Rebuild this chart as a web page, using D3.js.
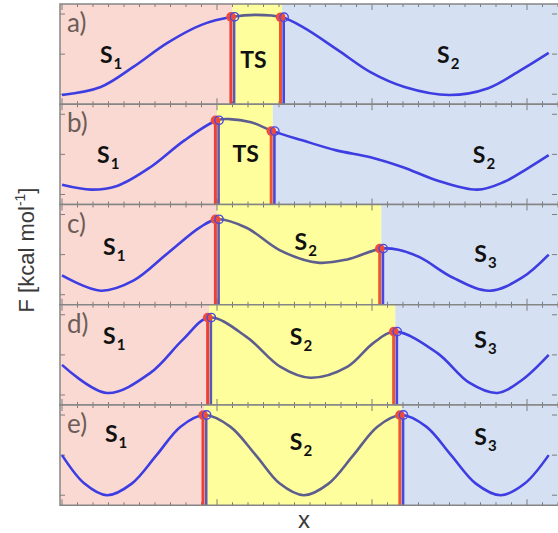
<!DOCTYPE html>
<html>
<head>
<meta charset="utf-8">
<script src="https://cdn.jsdelivr.net/npm/d3@7"></script>
<style>
    body { margin: 0; background: #fff; }
    svg { display: block; }
</style>
</head>
<body>
<div class="container"></div>
<script>

var panelNames = ["a)", "b)", "c)", "d)", "e)"];

// free energy profiles, [x, F]
var curveA = [[0, -0.02], [0.25, 0.18], [0.46, 0.68], [0.68, 1.28], [0.9, 1.73], [1.1, 1.93], [1.25, 1.98],
    [1.42, 1.92], [1.56, 1.66], [1.78, 1.1], [1.99, 0.55], [2.21, 0.18], [2.5, -0.02], [2.75, 0.15], [2.96, 0.6], [3.14, 1.03]];
var curveB = [[0, 0.24], [0.19, 0.12], [0.36, 0.22], [0.57, 0.68], [0.79, 1.35], [1.0, 1.85], [1.08, 1.88], [1.22, 1.8],
    [1.36, 1.58], [1.55, 1.35], [1.77, 1.1], [1.99, 0.93], [2.2, 0.68], [2.42, 0.35], [2.68, 0.12], [2.85, 0.31], [3.0, 0.64], [3.14, 0.98]];
var curveC = [[0, 0.48], [0.25, 0.1], [0.46, 0.35], [0.68, 1.03], [0.89, 1.68], [1.0, 1.88], [1.19, 1.67], [1.41, 1.1],
    [1.65, 0.8], [1.84, 0.88], [2.06, 1.15], [2.17, 1.12], [2.31, 0.93], [2.52, 0.43], [2.76, 0.1], [2.97, 0.43], [3.14, 1.0]];
var curveD = [[0, 0.75], [0.29, 0.05], [0.57, 0.55], [0.78, 1.38], [0.95, 1.93], [1.19, 1.45], [1.41, 0.7], [1.6, 0.43],
    [1.84, 0.7], [2.01, 1.3], [2.15, 1.58], [2.42, 1.05], [2.63, 0.3], [2.81, 0.05], [2.97, 0.38], [3.14, 1.0]];
var curveE = [[0, 1], [0.145, 0.29], [0.29, 0], [0.45, 0.29], [0.61, 1], [0.765, 1.71], [0.92, 2], [1.085, 1.71],
    [1.25, 1], [1.405, 0.29], [1.56, 0], [1.72, 0.29], [1.88, 1], [2.035, 1.71], [2.19, 2], [2.35, 1.71],
    [2.51, 1], [2.67, 0.29], [2.83, 0], [2.985, 0.29], [3.14, 1]];

// dividing surfaces (x) between the states
var boundsA = [1.1, 1.42];
var boundsB = [1.0, 1.36];
var boundsC = [1.0, 2.06];
var boundsD = [0.95, 2.15];
var boundsE = [0.92, 2.19];

var statesA = [["S", "1"], ["TS", ""], ["S", "2"]];
var statesB = [["S", "1"], ["TS", ""], ["S", "2"]];
var statesC = [["S", "1"], ["S", "2"], ["S", "3"]];
var statesD = [["S", "1"], ["S", "2"], ["S", "3"]];
var statesE = [["S", "1"], ["S", "2"], ["S", "3"]];

var yTicks = [0, 1, 2];

var panels = [
    { name: panelNames[0], curve: curveA, bounds: boundsA, states: statesA },
    { name: panelNames[1], curve: curveB, bounds: boundsB, states: statesB },
    { name: panelNames[2], curve: curveC, bounds: boundsC, states: statesC },
    { name: panelNames[3], curve: curveD, bounds: boundsD, states: statesD },
    { name: panelNames[4], curve: curveE, bounds: boundsE, states: statesE }
];

// where the state names sit, in data units [x, F]
var labelSpots = [
    [[0.245, 0.78], [1.15, 0.65], [2.42, 0.78]],
    [[0.226, 0.78], [1.1, 0.81], [2.65, 0.78]],
    [[0.265, 0.99], [1.5, 1.12], [2.66, 0.82]],
    [[0.265, 1.27], [1.47, 1.25], [2.66, 1.17]],
    [[0.277, 1.33], [1.47, 1.13], [2.66, 1.25]]
];

var width = 558, height = 533;
var frameL = 60, frameR = 560, frameT = 4, panelH = 100.25;

var svg = d3.select('.container')
    .append('svg')
    .attr('width', width)
    .attr('height', height)

svg.append('rect').attr('width', width).attr('height', height).attr('fill', '#fff')

var x = d3.scaleLinear().domain([0, 3]).range([62, 527]);
var xTickVals = d3.range(0, 33).map(function (i) { return i / 10; });

var defs = svg.append('defs');

panels.forEach(function (p, i) {
    var top = frameT + i * panelH;
    var bottom = top + panelH;
    var y = d3.scaleLinear().domain([-0.25, 2.25]).range([bottom, top]);
    var bL = x(p.bounds[0]), bR = x(p.bounds[1]);
    var g = svg.append('g').attr('class', 'panel');

    // state regions
    g.append('rect').attr('x', frameL).attr('y', top).attr('width', bL - frameL).attr('height', panelH).attr('fill', '#fad9d3')
    g.append('rect').attr('x', bL).attr('y', top).attr('width', bR - bL).attr('height', panelH).attr('fill', '#fefe9c')
    g.append('rect').attr('x', bR).attr('y', top).attr('width', frameR - bR).attr('height', panelH).attr('fill', '#d5e0f2')

    // ticks, pointing inward
    var tk = g.append('g').attr('stroke', '#7d7d7d').attr('stroke-width', 1)
    xTickVals.forEach(function (v, j) {
        var len = (j % 10 == 0) ? 6 : 3;
        tk.append('line').attr('x1', x(v)).attr('x2', x(v)).attr('y1', top).attr('y2', top + len)
        tk.append('line').attr('x1', x(v)).attr('x2', x(v)).attr('y1', bottom).attr('y2', bottom - len)
    })
    yTicks.forEach(function (v) {
        tk.append('line').attr('x1', frameL).attr('x2', frameL + 5).attr('y1', y(v)).attr('y2', y(v))
        tk.append('line').attr('x1', frameR - 3).attr('x2', frameR - 8).attr('y1', y(v)).attr('y2', y(v))
    })

    // clip paths: yellow part vs the rest
    defs.append('clipPath').attr('id', 'clipTS' + i)
        .append('rect').attr('x', bL).attr('y', top).attr('width', bR - bL).attr('height', panelH)
    var cp = defs.append('clipPath').attr('id', 'clipOut' + i)
    cp.append('rect').attr('x', frameL).attr('y', top).attr('width', bL - frameL).attr('height', panelH)
    cp.append('rect').attr('x', bR).attr('y', top).attr('width', frameR - bR).attr('height', panelH)

    var line = d3.line()
        .x(function (d) { return x(d[0]); })
        .y(function (d) { return y(d[1]); })
        .curve(d3.curveCatmullRom.alpha(0.5))

    var blueCurve = g.append('path')
        .attr('d', line(p.curve))
        .attr('fill', 'none')
        .attr('stroke', '#3d3de2')
        .attr('stroke-width', 2.6)
        .attr('clip-path', 'url(#clipOut' + i + ')')

    g.append('path')
        .attr('d', line(p.curve))
        .attr('fill', 'none')
        .attr('stroke', '#5e5e8e')
        .attr('stroke-width', 2.6)
        .attr('clip-path', 'url(#clipTS' + i + ')')

    // find curve height at a given pixel x
    var node = blueCurve.node();
    var total = node.getTotalLength();
    function yAt(px) {
        var lo = 0, hi = total;
        for (var k = 0; k < 40; k++) {
            var mid = (lo + hi) / 2;
            if (node.getPointAtLength(mid).x < px) lo = mid; else hi = mid;
        }
        return node.getPointAtLength(lo).y;
    }

    // dividing surfaces
    [bL, bR].forEach(function (bx, j) {
        var yy = yAt(bx);
        g.append('line').attr('x1', bx - 1.6).attr('x2', bx - 1.6).attr('y1', yy).attr('y2', bottom)
            .attr('stroke', j == 0 ? '#ee3f36' : '#f0562c').attr('stroke-width', 3)
        g.append('line').attr('x1', bx + 1.6).attr('x2', bx + 1.6).attr('y1', yy).attr('y2', bottom)
            .attr('stroke', j == 0 ? '#5a5ab4' : '#4646e0').attr('stroke-width', 2.6)
        g.append('circle').attr('cx', bx - 1.5).attr('cy', yy).attr('r', 4.8).attr('fill', '#ef4b3c')
        g.append('circle').attr('cx', bx + 2).attr('cy', yy).attr('r', 4.2)
            .attr('fill', 'none').attr('stroke', '#4a4ae0').attr('stroke-width', 1.4)
    })

    // panel letter
    g.append('text')
        .attr('x', 67).attr('y', top + 28)
        .attr('font-family', 'Lato, sans-serif')
        .attr('font-size', '26px')
        .attr('fill', '#6d5d58')
        .text(p.name)

    // state names
    p.states.forEach(function (s, j) {
        var spot = labelSpots[i][j];
        var t = g.append('text')
            .attr('x', x(spot[0])).attr('y', y(spot[1]))
            .attr('font-family', 'Lato, sans-serif')
            .attr('font-weight', 'bold')
            .attr('font-size', '23px')
            .attr('fill', '#111')
        t.append('tspan').text(s[0])
        if (s[1]) {
            t.append('tspan').attr('font-size', '15px').attr('dy', 6).attr('dx', 1).text(s[1])
        }
    })

    g.append('rect')
        .attr('x', frameL).attr('y', top).attr('width', frameR - frameL).attr('height', panelH)
        .attr('fill', 'none').attr('stroke', '#858585').attr('stroke-width', 1.5)
});

// axis labels
var yl = svg.append('text')
    .attr('transform', 'translate(34,250) rotate(-90)')
    .attr('text-anchor', 'middle')
    .attr('font-family', 'Liberation Sans, Arial, sans-serif')
    .attr('font-size', '22px')
    .attr('fill', '#3a3a3a')
yl.append('tspan').text('F [kcal mol')
yl.append('tspan').attr('font-size', '14px').attr('dy', -9).text('-1')
yl.append('tspan').attr('dy', 9).text(']')

svg.append('text')
    .attr('x', 304).attr('y', 528)
    .attr('text-anchor', 'middle')
    .attr('font-family', 'Liberation Sans, Arial, sans-serif')
    .attr('font-size', '24px')
    .attr('fill', '#3a3a3a')
    .text('x')

</script>
</body>
</html>
